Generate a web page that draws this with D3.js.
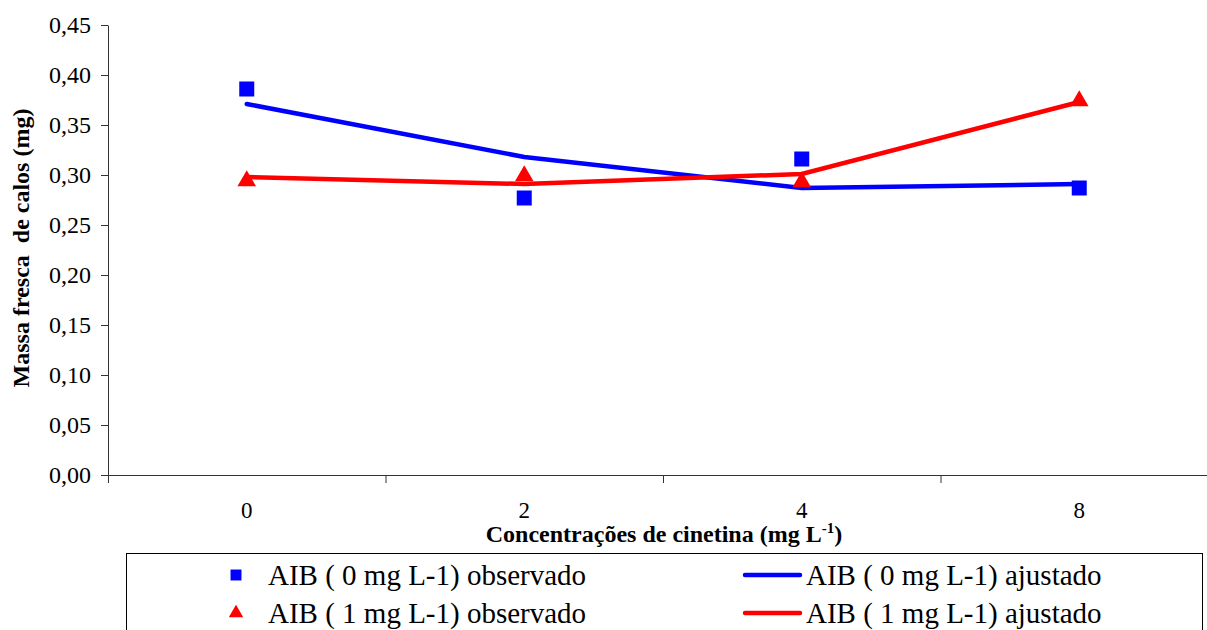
<!DOCTYPE html>
<html>
<head>
<meta charset="utf-8">
<script src="https://d3js.org/d3.v7.min.js"></script>
<style>
body { margin: 0; background: #fff; }
svg, svg text { font-family: 'Liberation Serif', 'Times New Roman', serif; }
svg { display: block; }
.axis path, .axis line { stroke: #333; }
</style>
</head>
<body>
<div id="chart"></div>
<script>

var categories = ["0", "2", "4", "8"];
var yTicks = [0, 0.05, 0.10, 0.15, 0.20, 0.25, 0.30, 0.35, 0.40, 0.45];

// AIB 0 mg L-1
var observed0 = [0.386, 0.277, 0.316, 0.287];
var fitted0 = [0.371, 0.318, 0.287, 0.291];
// AIB 1 mg L-1
var observed1 = [0.295, 0.300, 0.294, 0.375];
var fitted1 = [0.298, 0.291, 0.301, 0.373];

var width = 1207, height = 630;
var serif = "'Liberation Serif', 'Times New Roman', serif";

var svg = d3.select("#chart").append("svg")
.attr("width", width).attr("height", height);

var plotLeft = 108, plotRight = 1218, plotTop = 25, plotBottom = 475;

var x = d3.scaleBand().domain(categories).range([plotLeft, plotRight]);
var y = d3.scaleLinear().domain([0, 0.45]).range([plotBottom, plotTop]);

// y axis
var yAxis = d3.axisLeft(y)
.tickValues(yTicks)
.tickSize(7)
.tickSizeOuter(0)
.tickFormat(function (d) { return d3.format(".2f")(d).replace(".", ","); });

var gy = svg.append("g").attr("class", "axis")
.attr("transform", "translate(" + plotLeft + ",0)")
.call(yAxis);
gy.attr("font-family", serif);
gy.selectAll("text")
.style("font-family", serif)
.style("font-size", "24px")
.attr("fill", "#000")
.attr("x", -17)
.attr("dy", "0.33em");

// x axis: ticks on the category boundaries, labels in the middle
var xEdge = d3.scaleLinear().domain([0, categories.length]).range([plotLeft, plotRight]);
var xAxis = d3.axisBottom(xEdge)
.tickValues(d3.range(0, categories.length + 1))
.tickSize(8)
.tickSizeOuter(0)
.tickFormat("");

svg.append("g").attr("class", "axis")
.attr("transform", "translate(0," + plotBottom + ")")
.call(xAxis);

svg.selectAll("text.xlabel")
.data(categories).enter().append("text")
.attr("class", "xlabel")
.attr("x", function (d) { return x(d) + x.bandwidth() / 2; })
.attr("y", 518)
.attr("text-anchor", "middle")
.style("font-family", serif)
.style("font-size", "23px")
.text(function (d) { return d; });

// axis titles
var xTitle = svg.append("text")
.attr("x", 664).attr("y", 542)
.attr("text-anchor", "middle")
.style("font-family", serif)
.style("font-size", "24px")
.style("font-weight", "bold");
xTitle.append("tspan").text("Concentrações de cinetina (mg L");
xTitle.append("tspan").attr("dy", -9).style("font-size", "15px").text("-1");
xTitle.append("tspan").attr("dy", 9).text(")");

svg.append("text")
.attr("transform", "translate(29," + ((plotTop + plotBottom) / 2 - 2) + ") rotate(-90)")
.attr("text-anchor", "middle")
.style("font-family", serif)
.style("font-size", "24px")
.style("font-weight", "bold")
.style("white-space", "pre")
.text("Massa fresca  de calos (mg)");

// fitted lines
var line = d3.line()
.x(function (d, i) { return x(categories[i]) + x.bandwidth() / 2; })
.y(function (d) { return y(d); });

svg.append("path").datum(fitted0)
.attr("d", line)
.attr("fill", "none").attr("stroke", "#0000ff")
.attr("stroke-width", 4.5).attr("stroke-linecap", "round");

svg.append("path").datum(fitted1)
.attr("d", line)
.attr("fill", "none").attr("stroke", "#ff0000")
.attr("stroke-width", 4.5).attr("stroke-linecap", "round");

// observed points
var square = d3.symbol().type(d3.symbolSquare).size(225);
var triangle = d3.symbol().type(d3.symbolTriangle).size(150);

svg.selectAll("path.obs0")
.data(observed0).enter().append("path")
.attr("class", "obs0")
.attr("d", square)
.attr("fill", "#0000ff")
.attr("transform", function (d, i) {
  return "translate(" + (x(categories[i]) + x.bandwidth() / 2) + "," + y(d) + ")";
});

svg.selectAll("path.obs1")
.data(observed1).enter().append("path")
.attr("class", "obs1")
.attr("d", triangle)
.attr("fill", "#ff0000")
.attr("transform", function (d, i) {
  return "translate(" + (x(categories[i]) + x.bandwidth() / 2) + "," + (y(d) + 1) + ")";
});

// legend
var legend = svg.append("g");
legend.append("rect")
.attr("x", 126.5).attr("y", 553.5)
.attr("width", 1076).attr("height", 100)
.attr("fill", "#fff").attr("stroke", "#000");

var legendItems = [
  { kind: "square", color: "#0000ff", label: "AIB ( 0 mg L-1) observado", lx: 236, ly: 575 },
  { kind: "line", color: "#0000ff", label: "AIB ( 0 mg L-1) ajustado", lx: 745, ly: 575 },
  { kind: "triangle", color: "#ff0000", label: "AIB ( 1 mg L-1) observado", lx: 236, ly: 613 },
  { kind: "line", color: "#ff0000", label: "AIB ( 1 mg L-1) ajustado", lx: 745, ly: 613 }
];

legendItems.forEach(function (item) {
  var textX;
  if (item.kind === "line") {
    legend.append("line")
    .attr("x1", item.lx).attr("x2", item.lx + 55)
    .attr("y1", item.ly).attr("y2", item.ly)
    .attr("stroke", item.color).attr("stroke-width", 4.5)
    .attr("stroke-linecap", "round");
    textX = item.lx + 61;
  } else {
    legend.append("path")
    .attr("d", item.kind === "square" ? d3.symbol().type(d3.symbolSquare).size(120)
                                      : d3.symbol().type(d3.symbolTriangle).size(90))
    .attr("fill", item.color)
    .attr("transform", "translate(" + item.lx + "," + item.ly + ")");
    textX = 268;
  }
  legend.append("text")
  .attr("x", textX).attr("y", item.ly)
  .attr("dy", "0.35em")
  .style("font-family", serif)
  .style("font-size", "29px")
  .text(item.label);
});

</script>
</body>
</html>
